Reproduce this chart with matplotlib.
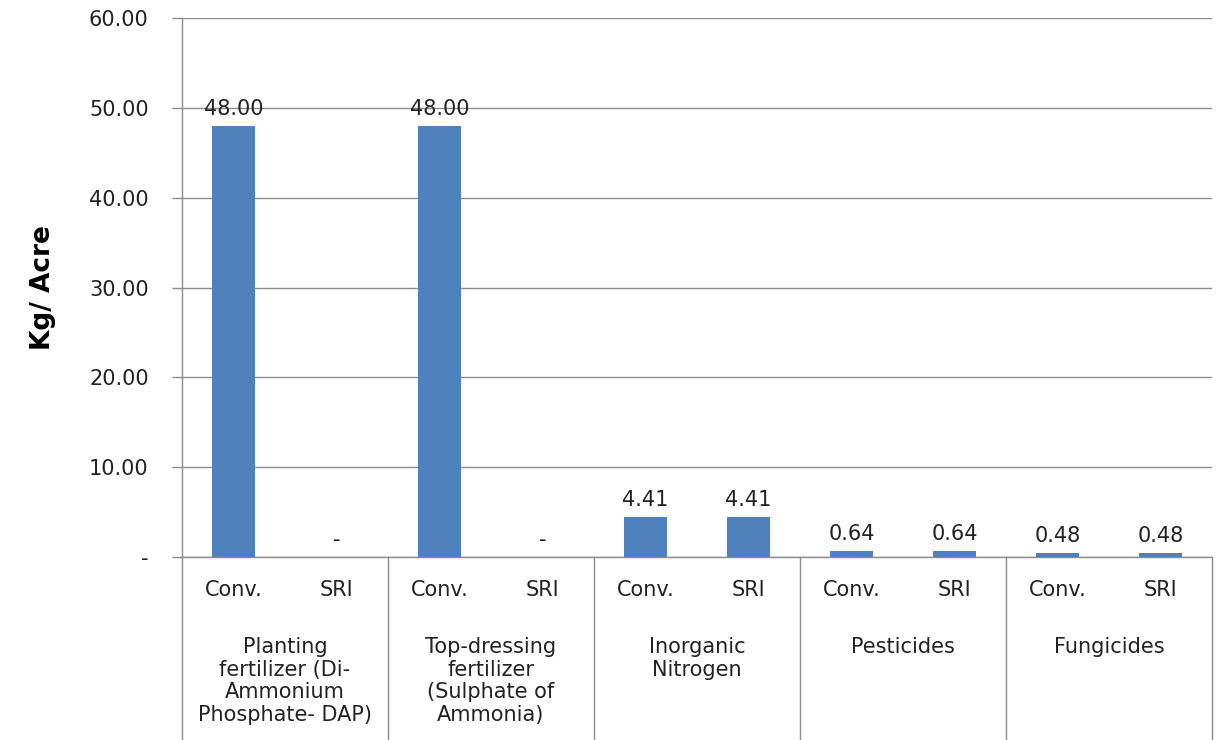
import matplotlib
matplotlib.use("Agg")
import matplotlib.pyplot as plt
from matplotlib.ticker import FixedLocator

groups = ["Planting\nfertilizer (Di-\nAmmonium\nPhosphate- DAP)",
          "Top-dressing\nfertilizer\n(Sulphate of\nAmmonia)",
          "Inorganic\nNitrogen",
          "Pesticides",
          "Fungicides"]
systems = ["Conv.", "SRI"]
conv_values = [48.00, 48.00, 4.41, 0.64, 0.48]
sri_values = [0.0, 0.0, 4.41, 0.64, 0.48]
yticks = [0, 10, 20, 30, 40, 50, 60]
ytick_labels = ["-", "10.00", "20.00", "30.00", "40.00", "50.00", "60.00"]

bar_color = "#4F81BD"
line_color = "#8C8C8C"
text_color = "#222222"
fs = 15

fig = plt.figure(figsize=(12.16, 7.40), dpi=100)
ax = fig.add_axes([182/1216, 1-557/740, (1212-182)/1216, (557-18)/740])

xs, vals, labs = [], [], []
for i in range(len(groups)):
    xs += [2*i, 2*i+1]
    vals += [conv_values[i], sri_values[i]]
    labs += systems

ax.bar(xs, vals, width=0.41, color=bar_color, zorder=3)
for x, v in zip(xs, vals):
    txt = f"{v:.2f}" if v > 0 else "-"
    ax.annotate(txt, (x, v), xytext=(0, 5), textcoords="offset points",
                ha="center", va="bottom", fontsize=fs, color=text_color)

ax.set_xlim(-0.5, 2*len(groups)-0.5)
ax.set_ylim(0, 60)
ax.yaxis.set_major_locator(FixedLocator(yticks))
ax.set_yticklabels(ytick_labels, fontsize=fs, color=text_color)
ax.tick_params(axis="y", length=7, color=line_color, pad=17, width=1)
ax.set_xticks([])
ax.grid(axis="y", color=line_color, linewidth=1, zorder=0)
for s in ["top", "right"]:
    ax.spines[s].set_visible(False)
ax.spines["left"].set_color(line_color)
ax.spines["bottom"].set_color(line_color)
ax.spines["left"].set_linewidth(1)
ax.spines["bottom"].set_linewidth(1)

ax.set_ylabel("Kg/ Acre", fontsize=19, fontweight="bold",
              family=["Liberation Sans Narrow", "DejaVu Sans"], color="black", labelpad=24)

trans = ax.get_xaxis_transform()
axh = (557-18)
for b in range(len(groups)+1):
    xb = 2*b - 0.5
    ax.plot([xb, xb], [0, -185/axh], transform=trans, color=line_color,
            linewidth=1, clip_on=False)

for x, l in zip(xs, labs):
    ax.text(x, -33/axh, l, transform=trans, ha="center", va="center",
            fontsize=fs, color=text_color)
for i, g in enumerate(groups):
    ax.text(2*i+0.5, -80/axh, g, transform=trans, ha="center", va="top",
            fontsize=fs, color=text_color, linespacing=1.17)

fig.savefig("out.png", dpi=100)
